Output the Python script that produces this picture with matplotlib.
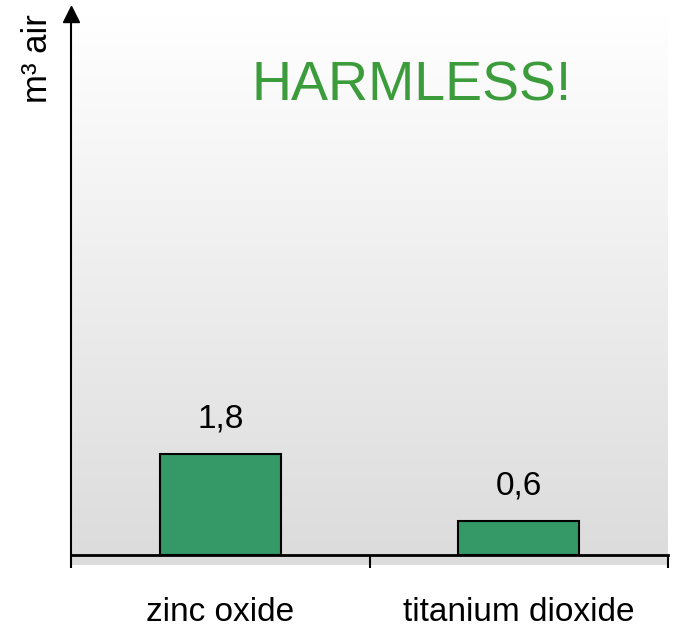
import numpy as np
import matplotlib
matplotlib.use("Agg")
import matplotlib.pyplot as plt
from matplotlib.patches import Rectangle

categories = ["zinc oxide", "titanium dioxide"]
values = [1.8, 0.6]
value_labels = ["1,8", "0,6"]
ylabel = "m³ air"
headline = "HARMLESS!"

plt.rcParams["font.family"] = ["Liberation Sans", "DejaVu Sans"]

W, H = 674, 630
fig = plt.figure(figsize=(W / 100, H / 100), dpi=100)
ax = fig.add_axes([71 / W, 1 - 555 / H, (668 - 71) / W, (555 - 14) / H])

# grey gradient background, white at top
grad = np.linspace(0xDC, 0xFF, 256)[:, None] / 255.0
ax.imshow(np.dstack([grad, grad, grad]), extent=[0, 1, 0, 1], transform=ax.transAxes,
          aspect="auto", origin="lower", zorder=0)
# floor strip under the axis
ax.add_patch(Rectangle((0, -10 / 541), 1, 10 / 541, transform=ax.transAxes,
                       facecolor="#dcdcdc", edgecolor="none", clip_on=False, zorder=0))

x = np.arange(len(categories))
bars = ax.bar(x, values, width=0.405, color="#349966", edgecolor="black", linewidth=1.5, zorder=2)
for b, lab in zip(bars, value_labels):
    ax.annotate(lab, (b.get_x() + b.get_width() / 2, b.get_height()), xytext=(0, 14),
                textcoords="offset points", ha="center", va="bottom", fontsize=24)

ax.set_xlim(-0.5, len(categories) - 0.5)
ax.set_ylim(0, 9.65)

for s in ["top", "right"]:
    ax.spines[s].set_visible(False)
ax.spines["left"].set_linewidth(1.5)
ax.spines["bottom"].set_linewidth(2)
ax.plot(0, 1, marker="^", color="black", markersize=12, transform=ax.transAxes,
        clip_on=False, zorder=5)

# ticks on category boundaries, labels at centres
ax.set_xticks(np.arange(-0.5, len(categories), 1.0))
ax.set_xticklabels([])
ax.set_xticks(x, minor=True)
ax.set_xticklabels(categories, minor=True, fontsize=24)
ax.tick_params(axis="x", which="major", length=9, width=1.5, direction="out")
ax.tick_params(axis="x", which="minor", length=0, pad=30)
ax.set_yticks([])

ax.set_ylabel(ylabel, fontsize=25, loc="top")
ax.yaxis.set_label_coords(-17 / 597, 1.0)

ax.text(0.57, 0.841, headline, transform=ax.transAxes, ha="center", va="baseline",
        fontsize=40, color="#3c9c3c")

fig.savefig("out.png", dpi=100)
